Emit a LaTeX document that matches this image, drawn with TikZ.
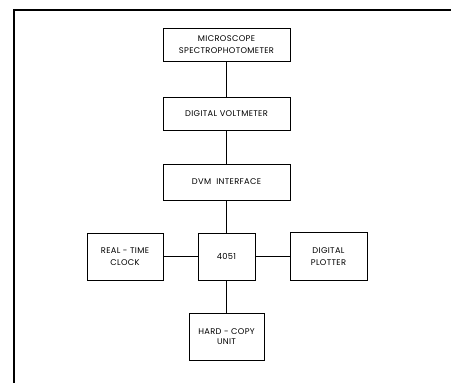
\documentclass[tikz,border=0pt]{standalone}
\usepackage{fontspec}
\setmainfont{Poppins}[LetterSpace=4]
\usetikzlibrary{positioning}

\tikzset{
  block/.style={draw, line width=0.8pt, inner sep=0pt, outer sep=0pt, align=center,
    font=\fontsize{8.3}{11.5}\selectfont},
  link/.style={line width=0.8pt},
}

\begin{document}
\begin{tikzpicture}[x=1pt,y=1pt]
 \useasboundingbox (0,0) rectangle (451,-383);
 % frame
 \draw [line width=1.6pt] (14,-383) -- (14,-10) -- (451,-10);
 % blocks
 \node [block, minimum width=127pt, minimum height=33pt] (mic) at (226.5,-44.5) {MICROSCOPE\\SPECTROPHOTOMETER};
 \node [block, minimum width=127pt, minimum height=33pt, below=36pt of mic] (dvm) {DIGITAL VOLTMETER};
 \node [block, minimum width=127pt, minimum height=36pt, below=34pt of dvm] (iface) {DVM\ \ INTERFACE};
 \node [block, minimum width=57pt, minimum height=47pt, below=33pt of iface] (cpu) {4051};
 \node [block, minimum width=76pt, minimum height=47pt, left=35pt of cpu] (clock) {REAL - TIME\\CLOCK};
 \node [block, minimum width=77pt, minimum height=48pt, right=35pt of cpu] (plotter) {DIGITAL\\PLOTTER};
 \node [block, minimum width=75pt, minimum height=47pt, below=33pt of cpu, font=\fontsize{8.3}{10}\selectfont] (hcopy) {HARD - COPY\\UNIT};
 % connections
 \draw [link] (mic) -- (dvm);
 \draw [link] (dvm) -- (iface);
 \draw [link] (iface) -- (cpu);
 \draw [link] (cpu) -- (hcopy);
 \draw [link] (clock) -- (cpu);
 \draw [link] (cpu) -- (plotter);
\end{tikzpicture}
\end{document}
